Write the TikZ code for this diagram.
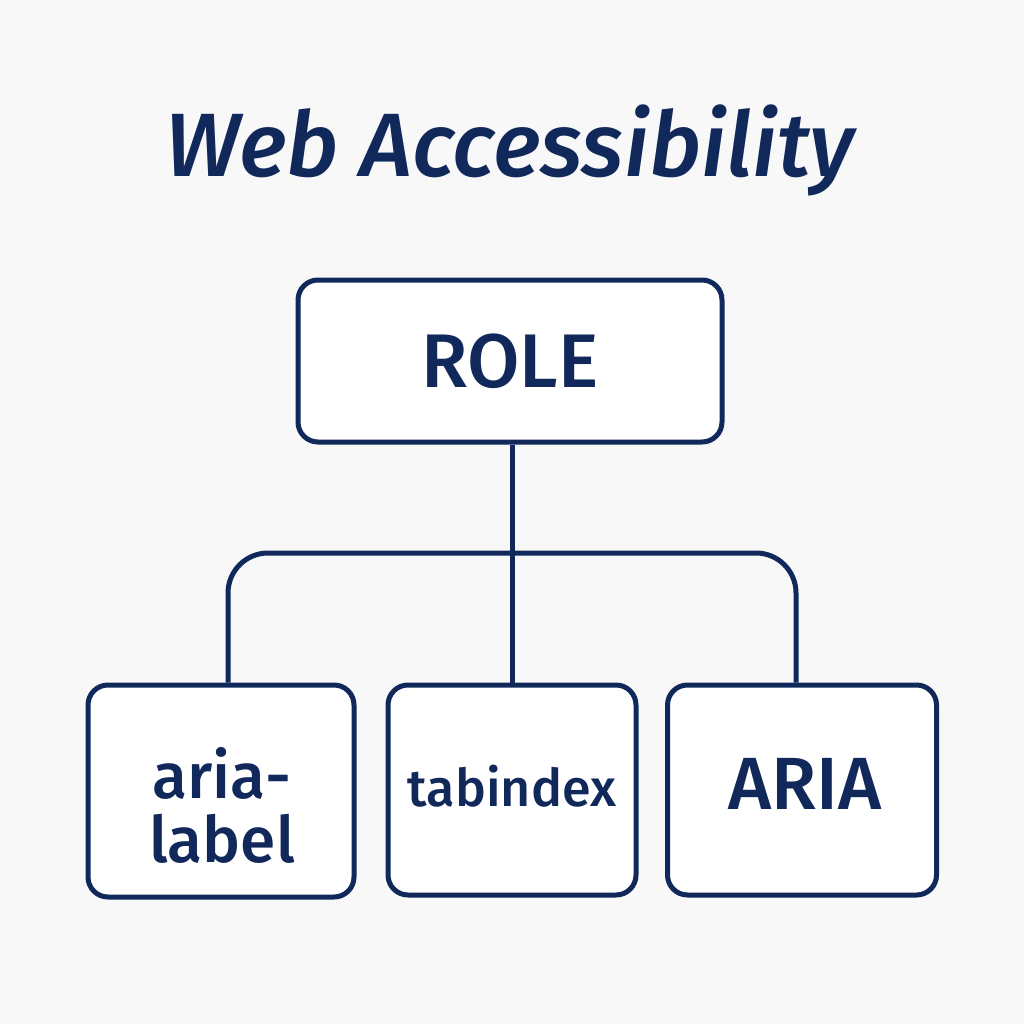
\documentclass[tikz,border=0pt]{standalone}
\usepackage{fontspec}
\setmainfont{Fira Sans Medium}[ItalicFont={Fira Sans Medium Italic}]
\definecolor{ink}{HTML}{10285A}
\definecolor{bg}{HTML}{F8F8F8}
\begin{document}
\begin{tikzpicture}[x=1pt,y=-1pt,
  box/.style={draw=ink, line width=5pt, fill=white, rounded corners=20pt, inner sep=0pt},
  conn/.style={draw=ink, line width=5pt},
  lbl/.style={text=ink, align=center}]
\fill[bg] (0,0) rectangle (1024,1024);
\useasboundingbox (0,0) rectangle (1024,1024);
\node[lbl, font=\fontsize{90}{96}\selectfont\itshape] (title) at (510,150) {Web Accessibility};
\node[box, minimum width=424pt, minimum height=162pt] (role) at (510,361) {};
\node[lbl, font=\fontsize{76}{80}\selectfont] at (role.center) {ROLE};
\node[box, minimum width=266pt, minimum height=212pt] (al) at (221,791) {};
\node[lbl, font=\fontsize{64}{64}\selectfont] at (222,805) {aria-\\label};
\node[box, minimum width=248pt, minimum height=210pt] (tab) at (512,790) {};
\node[lbl, font=\fontsize{52}{60}\selectfont] at (512,786) {tabindex};
\node[box, minimum width=269pt, minimum height=210pt] (aria) at (802,790) {};
\node[lbl, font=\fontsize{74}{80}\selectfont] at (805,784) {ARIA};
\coordinate (hl) at (228,553);
\coordinate (hr) at (796,553);
\draw[conn] (tab.north |- role.south) -- (tab.north);
\draw[conn, rounded corners=40pt] (al.north -| hl) -- (hl) -- (hr) -- (aria.north -| hr);
\end{tikzpicture}
\end{document}
